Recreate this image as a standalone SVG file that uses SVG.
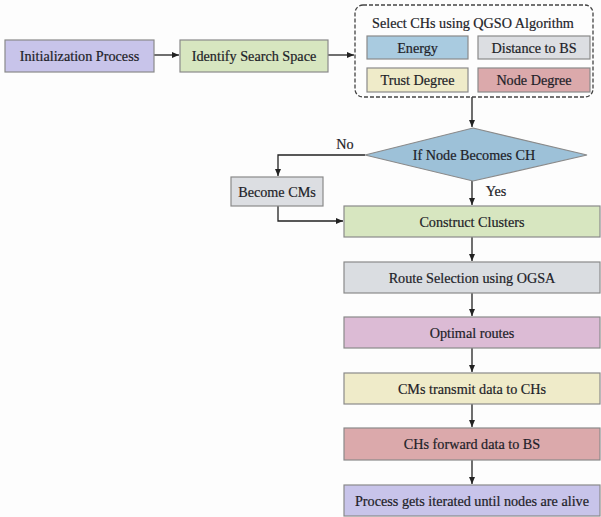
<svg xmlns="http://www.w3.org/2000/svg" width="601" height="517" viewBox="0 0 601 517">
<defs>
<marker id="ah" markerWidth="8" markerHeight="8" refX="7" refY="4" orient="auto" markerUnits="userSpaceOnUse">
<path d="M0,1 L7,4 L0,7 Z" fill="#222"/>
</marker>
<style>
text{font-family:"Liberation Serif","Times New Roman",serif;font-size:14.2px;fill:#1e1e28;stroke:#1e1e28;stroke-width:0.2;text-anchor:middle;dominant-baseline:central}
.box{stroke:#8a8a8a;stroke-width:1.2}
.ln{fill:none;stroke:#222;stroke-width:1.3}
</style>
</defs>
<rect width="601" height="517" fill="#fdfdfd"/>
<g id="connectors">
<path class="ln" d="M154,55 L179,55" marker-end="url(#ah)"/>
<path class="ln" d="M328,55 L354,55" marker-end="url(#ah)"/>
<path class="ln" d="M472,97 L472,127" marker-end="url(#ah)"/>
<path class="ln" d="M365,155 L278,155 L278,176" marker-end="url(#ah)"/>
<path class="ln" d="M472,181 L472,205" marker-end="url(#ah)"/>
<path class="ln" d="M278,206 L278,221 L343,221" marker-end="url(#ah)"/>
<path class="ln" d="M472,237 L472,261" marker-end="url(#ah)"/>
<path class="ln" d="M472,293 L472,316" marker-end="url(#ah)"/>
<path class="ln" d="M472,348 L472,372" marker-end="url(#ah)"/>
<path class="ln" d="M472,404 L472,427" marker-end="url(#ah)"/>
<path class="ln" d="M472,460 L472,484" marker-end="url(#ah)"/>
<text x="345" y="144">No</text>
<text x="496" y="191">Yes</text>
</g>
<g id="init"><rect class="box" x="5" y="40" width="149" height="32" fill="#c8c4ea"/><text x="79.5" y="56">Initialization Process</text></g>
<g id="identify"><rect class="box" x="180" y="40" width="148" height="32" fill="#d7e6c0"/><text x="254" y="56">Identify Search Space</text></g>
<g id="select">
<rect x="355" y="5" width="238" height="92" rx="8" fill="none" stroke="#444" stroke-width="1.3" stroke-dasharray="4,2"/>
<text x="473" y="23">Select CHs using QGSO Algorithm</text>
</g>
<g id="energy"><rect class="box" x="367" y="36" width="101" height="23" fill="#a9cbe0"/><text x="417.5" y="47.5">Energy</text></g>
<g id="distance"><rect class="box" x="478" y="36" width="112" height="23" fill="#dcdee2"/><text x="534" y="47.5">Distance to BS</text></g>
<g id="trust"><rect class="box" x="367" y="68" width="101" height="24" fill="#efebc9"/><text x="417.5" y="80">Trust Degree</text></g>
<g id="nodedeg"><rect class="box" x="478" y="68" width="112" height="24" fill="#dba9ab"/><text x="534" y="80">Node Degree</text></g>
<g id="decision"><polygon class="box" points="473,128 587,155 473,181 365,155" fill="#9dc1d8"/><text x="474" y="155">If Node Becomes CH</text></g>
<g id="cms"><rect class="box" x="231" y="177" width="92" height="29" fill="#dcdee2"/><text x="277" y="191.5">Become CMs</text></g>
<g id="clusters"><rect class="box" x="344" y="206" width="256" height="31" fill="#d7e6c0"/><text x="472" y="221.5">Construct Clusters</text></g>
<g id="route"><rect class="box" x="344" y="262" width="256" height="31" fill="#dadde1"/><text x="472" y="277.5">Route Selection using OGSA</text></g>
<g id="optimal"><rect class="box" x="344" y="317" width="256" height="31" fill="#dcbbd5"/><text x="472" y="332.5">Optimal routes</text></g>
<g id="transmit"><rect class="box" x="344" y="373" width="256" height="31" fill="#efebc9"/><text x="472" y="388.5">CMs transmit data to CHs</text></g>
<g id="forward"><rect class="box" x="344" y="428" width="256" height="32" fill="#dba9ab"/><text x="472" y="444">CHs forward data to BS</text></g>
<g id="iterate"><rect class="box" x="344" y="485" width="256" height="31" fill="#c8c4ea"/><text x="472" y="500.5">Process gets iterated until nodes are alive</text></g>
</svg>
